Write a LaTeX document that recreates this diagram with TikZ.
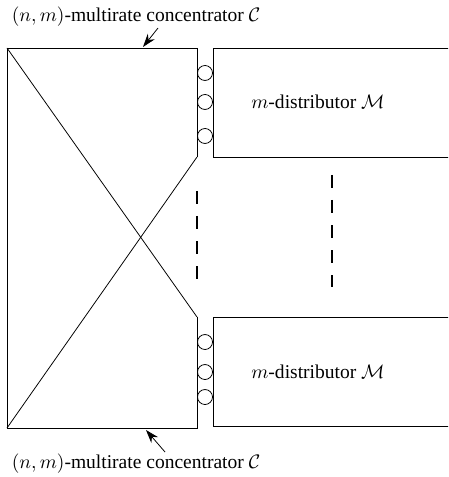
\documentclass[tikz,border=0pt]{standalone}
\usepackage{fontspec}
\setmainfont{Liberation Serif}
\usetikzlibrary{positioning,arrows.meta}
\begin{document}
\begin{tikzpicture}[x=0.018cm,y=-0.018cm,>={Stealth[length=2.4mm,width=1.6mm]}]
  \tikzset{
    distbox/.style={draw,rectangle,minimum width=250*0.018cm,minimum height=109*0.018cm,anchor=north west},
    port/.style={draw,circle,inner sep=0pt,minimum size=15*0.018cm},
    dots/.style={line width=1.3pt,dash pattern=on 13*0.018cm off 12*0.018cm}
  }
  \clip (0,0) rectangle (448,477);
  % concentrator
  \coordinate (tl) at (7,48);
  \coordinate (tr) at (197,48);
  \coordinate (bl) at (7,428);
  \coordinate (br) at (197,428);
  \coordinate (rt) at (197,157);
  \coordinate (rb) at (197,317);
  \draw (rt) -- (tr) -- (tl) -- (bl) -- (br) -- (rb);
  \draw (tl) -- (rb);
  \draw (bl) -- (rt);
  % distributors
  \node[distbox] (M1) at (213,48) {};
  \node[distbox] (M2) at (213,317) {};
  \node (t1) at (318,102) {$m$-distributor $\mathcal{M}$};
  \node (t2) at (318,372) {$m$-distributor $\mathcal{M}$};
  % ports
  \node[port] (p1) at (205,73) {};
  \node[port] (p2) at (205,102) {};
  \node[port] (p3) at (205,136) {};
  \node[port] (p4) at (205,342) {};
  \node[port] (p5) at (205,372) {};
  \node[port] (p6) at (205,397) {};
  % dashes
  \draw[dots] (197,191) -- (197,279);
  \draw[dots] (332,175) -- (332,287);
  % labels
  \node (top) at (136,17) {$(n,m)$-multirate concentrator $\mathcal{C}$};
  \node (bot) at (136,464) {$(n,m)$-multirate concentrator $\mathcal{C}$};
  \coordinate (a1) at (143,47);
  \coordinate (a2) at (146,430);
  \draw[->] (158,28) -- (a1);
  \draw[->] (165,452) -- (a2);
\end{tikzpicture}
\end{document}
